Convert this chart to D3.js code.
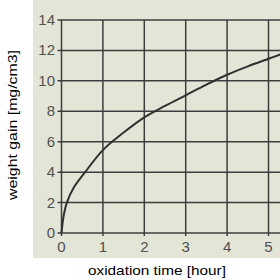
<!DOCTYPE html>
<html>
<head>
<meta charset="utf-8">
<script src="https://cdn.jsdelivr.net/npm/d3@7"></script>
<style>
  html, body { margin: 0; padding: 0; background: #fff; }
  svg { display: block; }
</style>
</head>
<body>
<svg id="chart" width="280" height="280"></svg>
<script>
// oxidation time (hour) and weight gain (mg/cm3)
const hours = [0, 0.05, 0.13, 0.3, 0.57, 1, 1.5, 2, 2.5, 3, 3.5, 4, 4.5, 5, 5.3];
const gain = [0, 1.1, 2, 3.0, 4, 5.45, 6.6, 7.6, 8.35, 9.05, 9.75, 10.4, 10.95, 11.45, 11.75];

const xTicks = [0, 1, 2, 3, 4, 5];
const yTicks = [0, 2, 4, 6, 8, 10, 12, 14];

const svg = d3.select("#chart");

const x = d3.scaleLinear().domain([0, 5]).range([61.5, 268.5]);
const y = d3.scaleLinear().domain([0, 14]).range([233, 20]);

// scanned paper area
svg.append("rect")
    .attr("x", 33).attr("y", 0)
    .attr("width", 247).attr("height", 258)
    .attr("fill", "#e3e5d7");

const grid = svg.append("g")
    .attr("stroke", "#3e3e3e")
    .attr("stroke-width", 1.5);

// horizontal grid lines (one per y tick), run past the right edge
grid.selectAll("line.h")
    .data(yTicks)
    .enter()
    .append("line")
    .attr("class", "h")
    .attr("x1", x(0) - 4)
    .attr("x2", 280)
    .attr("y1", d => y(d))
    .attr("y2", d => y(d));

// vertical grid lines
grid.selectAll("line.v")
    .data(xTicks)
    .enter()
    .append("line")
    .attr("class", "v")
    .attr("x1", d => x(d))
    .attr("x2", d => x(d))
    .attr("y1", y(14))
    .attr("y2", y(0) + 3);

// tick labels
svg.append("g")
    .selectAll("text")
    .data(xTicks)
    .enter()
    .append("text")
    .attr("x", d => x(d))
    .attr("y", 252)
    .attr("text-anchor", "middle")
    .attr("font-family", "Liberation Sans, Arial, sans-serif")
    .attr("font-size", 15)
    .attr("fill", "#505050")
    .text(d => d);

svg.append("g")
    .selectAll("text")
    .data(yTicks)
    .enter()
    .append("text")
    .attr("x", 55)
    .attr("y", d => y(d) + 5)
    .attr("text-anchor", "end")
    .attr("font-family", "Liberation Sans, Arial, sans-serif")
    .attr("font-size", 15)
    .attr("fill", "#505050")
    .text(d => d);

// the growth curve
const line = d3.line()
    .x((d, i) => x(hours[i]))
    .y(d => y(d))
    .curve(d3.curveCatmullRom.alpha(0.5));

svg.append("path")
    .datum(gain)
    .attr("d", line)
    .attr("fill", "none")
    .attr("stroke", "#303030")
    .attr("stroke-width", 2);

// axis titles
svg.append("text")
    .attr("x", 157)
    .attr("y", 275)
    .attr("text-anchor", "middle")
    .attr("font-family", "Liberation Sans, Arial, sans-serif")
    .attr("font-size", 13)
    .attr("textLength", 138)
    .attr("lengthAdjust", "spacingAndGlyphs")
    .attr("fill", "#000")
    .text("oxidation time [hour]");

svg.append("text")
    .attr("transform", "translate(17,125) rotate(-90)")
    .attr("text-anchor", "middle")
    .attr("font-family", "Liberation Sans, Arial, sans-serif")
    .attr("font-size", 13)
    .attr("textLength", 150)
    .attr("lengthAdjust", "spacingAndGlyphs")
    .attr("fill", "#000")
    .text("weight gain [mg/cm3]");
</script>
</body>
</html>
